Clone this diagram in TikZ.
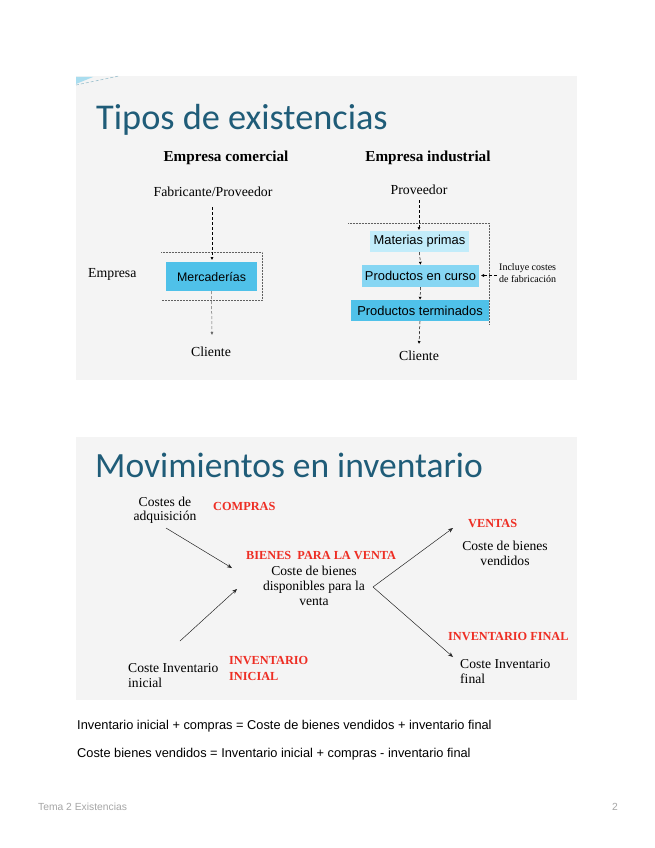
\documentclass[tikz,border=0pt]{standalone}
\usepackage{fontspec}
\setmainfont{Liberation Serif}
\newfontfamily\titlefont{Carlito}
\newfontfamily\arialfont{Liberation Sans}
\usetikzlibrary{arrows.meta}
\definecolor{slidebg}{HTML}{F4F4F4}
\definecolor{titlecol}{HTML}{1F5C78}
\definecolor{redcol}{HTML}{EE2E24}
\definecolor{boxdark}{HTML}{4FC1E9}
\definecolor{boxmid}{HTML}{86D6F3}
\definecolor{boxlight}{HTML}{C2ECFA}
\definecolor{cornercol}{HTML}{A9DDEF}
\tikzset{
  slidetitle/.style={anchor=base west,inner sep=0pt,font=\titlefont\fontsize{36.3}{36}\selectfont,text=titlecol},
  headtxt/.style={anchor=base,inner sep=0pt,font=\bfseries\fontsize{15.2}{16}\selectfont},
  sertxt/.style={anchor=base,inner sep=0pt,font=\fontsize{13.8}{14}\selectfont},
  redtxt/.style={anchor=base west,inner sep=0pt,font=\bfseries\fontsize{12.3}{14}\selectfont,text=redcol},
  bluebox/.style={inner sep=0pt,font=\arialfont\fontsize{12.9}{14}\selectfont},
  dasharr/.style={densely dashed,-{Latex[length=3pt,width=3pt]},line width=0.5pt},
  dotline/.style={densely dotted,line width=0.5pt,gray!75!black},
  movarr/.style={-{Stealth[length=5pt,width=4pt]},line width=0.5pt,black!85},
  ltxt/.style={anchor=base,inner sep=0pt,font=\fontsize{13.6}{14}\selectfont},
  smalltxt/.style={anchor=base west,inner sep=0pt,font=\fontsize{10}{12}\selectfont},
  eqtxt/.style={anchor=base west,inner sep=0pt,font=\arialfont\fontsize{12.8}{13}\selectfont},
  foottxt/.style={anchor=base west,inner sep=0pt,font=\arialfont\fontsize{10.3}{11}\selectfont,text=gray!70}
}
\begin{document}
\begin{tikzpicture}[x=1pt,y=-1pt]
\useasboundingbox (0,0) rectangle (655,848);
\fill[white] (0,0) rectangle (655,848);
% slide backgrounds
\fill[slidebg] (76,76) rectangle (577,380);
\fill[slidebg] (76,437) rectangle (577,700);
% corner decoration
\fill[cornercol] (76,77) -- (93,77) -- (76,84) -- cycle;
\draw[densely dashed,cornercol!70!gray,line width=0.6pt] (76,85) -- (119,76);

% ---------- Slide 1 ----------
\node[slidetitle] (t1) at (96,130) {Tipos de existencias};
\node[headtxt] (hc) at (226,161) {Empresa comercial};
\node[headtxt] (hi) at (428,161) {Empresa industrial};

% commercial
\node[sertxt] (fab) at (213,196) {Fabricante/Proveedor};
\node[bluebox,fill=boxdark,minimum width=91pt,minimum height=29pt,font=\arialfont\fontsize{12.4}{14}\selectfont] (merc) at (211.5,276.5) {Mercaderías};
\node[sertxt,anchor=base west] (emp) at (88,277) {Empresa};
\node[sertxt] (cli1) at (211,356) {Cliente};
\draw[dotline] (161,252) -- (262,252) -- (262,300) -- (161,300);
\coordinate (f1) at (212,207);
\coordinate (f2) at (212,260);
\coordinate (c1) at (212,335);
\draw[dasharr] (f1) -- (f2);
\draw[dasharr,gray!80!black] (merc.south) -- (c1);

% industrial
\node[sertxt] (prov) at (419,194) {Proveedor};
\node[bluebox,fill=boxlight,minimum width=99pt,minimum height=21pt] (mp) at (419.5,241.5) {Materias primas};
\node[bluebox,fill=boxmid,minimum width=117pt,minimum height=22pt] (pc) at (420.5,276) {Productos en curso};
\node[bluebox,fill=boxdark,minimum width=138pt,minimum height=21pt] (pt) at (420,310.5) {Productos terminados};
\node[sertxt] (cli2) at (419,360.5) {Cliente};
\draw[dotline] (348,223) -- (489,223) -- (489,325);
\coordinate (p1) at (419,200);
\coordinate (p2) at (419,230);
\coordinate (c2) at (419,344);
\draw[dasharr] (p1) -- (p2);
\draw[dasharr] (mp.south) -- (pc.north);
\draw[dasharr] (pc.south) -- (pt.north);
\draw[dasharr] (pt.south) -- (c2);
\node[smalltxt] (inc1) at (499,270) {Incluye costes};
\node[smalltxt] (inc2) at (499,282.3) {de fabricación};
\coordinate (ia) at (497,275.5);
\coordinate (ib) at (481,275.5);
\draw[dasharr] (ia) -- (ib);

% ---------- Slide 2 ----------
\node[slidetitle,font=\titlefont\fontsize{35.5}{36}\selectfont] (t2) at (95,477.3) {Movimientos en inventario};
\node[ltxt] (cadq1) at (165,506) {Costes de};
\node[ltxt] (cadq2) at (165,520.6) {adquisición};
\node[redtxt] (compras) at (213,510.7) {COMPRAS};
\node[redtxt] (bienes) at (246,559) {BIENES\ \ PARA LA VENTA};
\node[ltxt] (cd1) at (314,575) {Coste de bienes};
\node[ltxt] (cd2) at (314,590.7) {disponibles para la};
\node[ltxt] (cd3) at (314,605) {venta};
\node[ltxt,anchor=base west] (cini1) at (128,672.3) {Coste Inventario};
\node[ltxt,anchor=base west] (cini2) at (128,687.3) {inicial};
\node[redtxt] (rini1) at (229,664.3) {INVENTARIO};
\node[redtxt] (rini2) at (229,680) {INICIAL};
\node[redtxt] (ventas) at (468,527.3) {VENTAS};
\node[ltxt] (cv1) at (505,550.7) {Coste de bienes};
\node[ltxt] (cv2) at (505,565.7) {vendidos};
\node[redtxt] (rfin) at (448,640) {INVENTARIO FINAL};
\node[ltxt,anchor=base west] (cfin1) at (460,668.3) {Coste Inventario};
\node[ltxt,anchor=base west] (cfin2) at (460,683.3) {final};

\coordinate (a1s) at (166,528);
\coordinate (a1e) at (232,568);
\coordinate (a2s) at (180,641);
\coordinate (a2e) at (237,589);
\coordinate (hub) at (373,587);
\coordinate (a3e) at (453,528);
\coordinate (a4e) at (453,657);
\draw[movarr] (a1s) -- (a1e);
\draw[movarr] (a2s) -- (a2e);
\draw[movarr] (hub) -- (a3e);
\draw[movarr] (hub) -- (a4e);

% equations
\node[eqtxt] (eq1) at (77,729) {Inventario inicial + compras = Coste de bienes vendidos + inventario final};
\node[eqtxt] (eq2) at (77,757) {Coste bienes vendidos = Inventario inicial + compras - inventario final};

% footer
\node[foottxt] (foot) at (38,810) {Tema 2 Existencias};
\node[foottxt,anchor=base east] (pg) at (618,810) {2};
\end{tikzpicture}
\end{document}
